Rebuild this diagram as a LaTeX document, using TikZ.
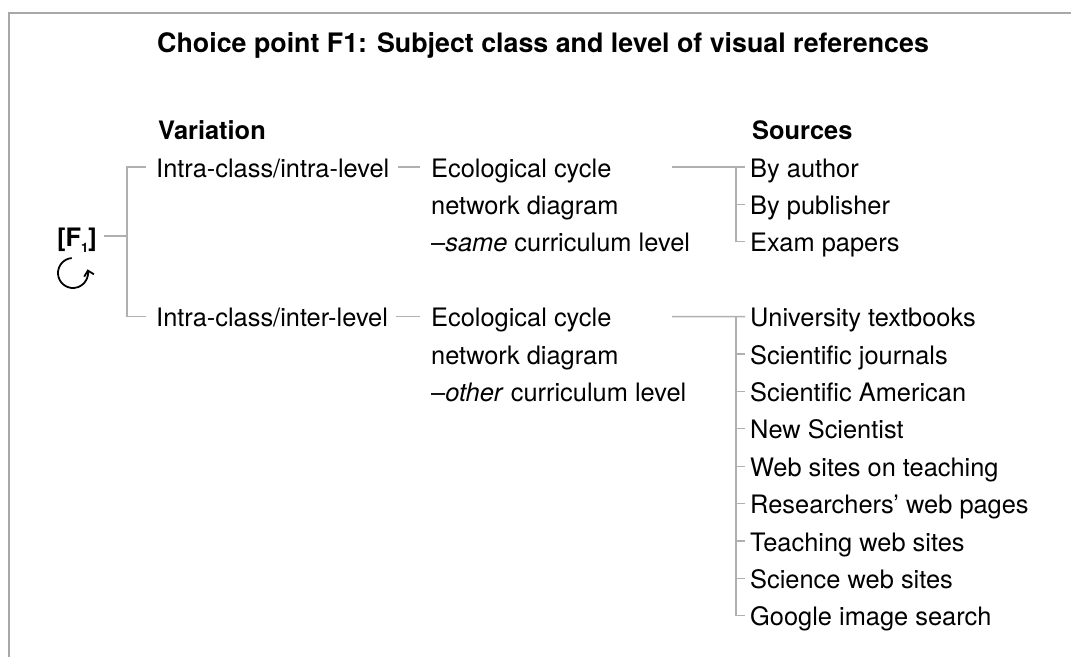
\documentclass[tikz,border=0pt]{standalone}
\usepackage{fontspec}
\setmainfont{TeX Gyre Heros}
\usetikzlibrary{arrows.meta}
\definecolor{linegray}{HTML}{B0B0B0}
\definecolor{framegray}{HTML}{A8A8A8}
\newcommand{\rowfont}{\fontsize{25.4}{30}\selectfont}

\begin{document}
\begin{tikzpicture}[x=1pt, y=-1pt,
  item/.style={anchor=west, inner sep=0pt, text height=20pt, text depth=0pt, font=\rowfont},
  head/.style={item, font=\rowfont\bfseries},
  conn/.style={draw=linegray, line width=1.3pt}]
  \useasboundingbox (0,0) rectangle (1071,657);

  % Marco
  \draw[framegray, line width=2pt] (8.5,657) -- (8.5,12.5) -- (1071,12.5);

  % Titulo y cabeceras
  \node[head, font=\fontsize{26.8}{32}\selectfont\bfseries] (title) at (157,42)
        {Choice point F1: Subject class and level of visual references};
  \node[head] (hvar) at (158,129.6) {Variation};
  \node[head] (hsrc) at (752,129.6) {Sources};

  % Punto de eleccion
  \node[head] (f1) at (57,236) {[F\raisebox{-0.45ex}{\fontsize{13}{13}\selectfont 1}]};
  \draw[line width=1.8pt, -{Straight Barb[length=5pt, width=10pt]}]
    (73,273) ++(-95:15) arc[start angle=-95, end angle=-374, radius=15];
  \coordinate (fork) at (127,236);

  % Variaciones
  \node[item] (v1) at (156,167) {Intra-class/intra-level};
  \node[item] (v2) at (156,316.6) {Intra-class/inter-level};

  % Diagramas
  \node[item] (e1a) at (431,167) {Ecological cycle};
  \node[item] (e1b) at (431,204.4) {network diagram};
  \node[item] (e1c) at (431,241.8) {–\textit{same} curriculum level};
  \node[item] (e2a) at (431,316.6) {Ecological cycle};
  \node[item] (e2b) at (431,354) {network diagram};
  \node[item] (e2c) at (431,391.4) {–\textit{other} curriculum level};

  % Fuentes
  \node[item] (s1) at (750,167) {By author};
  \node[item] (s2) at (750,204.4) {By publisher};
  \node[item] (s3) at (750,241.8) {Exam papers};
  \foreach \name [count=\i] in {University textbooks, Scientific journals,
      Scientific American, New Scientist, Web sites on teaching,
      Researchers’ web pages, Teaching web sites, Science web sites,
      Google image search}
    \node[item] (t\i) at (750,279.2+37.4*\i) {\name};

  % Conectores
  \draw[conn, shorten <=7pt] (f1.east) -- (fork);
  \draw[conn] ([xshift=-10pt]v1.west) -- (fork |- v1.west)
              -- (fork |- v2.west) -- ([xshift=-10pt]v2.west);
  \draw[conn] ([xshift=8pt]v1.east) -- ([xshift=-11pt]e1a.west);
  \draw[conn] ([xshift=8pt]v2.east) -- ([xshift=-11pt]e2a.west);

  \coordinate (src1) at (672,167);
  \coordinate (src2) at (672,316.6);
  \draw[conn] (src1) -- ([xshift=-5pt]s1.west);
  \draw[conn] ([xshift=-14pt]s1.west) -- ([xshift=-14pt]s3.west)
              -- ([xshift=-5pt]s3.west);
  \draw[conn] ([xshift=-14pt]s2.west) -- ([xshift=-5pt]s2.west);

  \draw[conn] (src2) -- ([xshift=-5pt]t1.west);
  \draw[conn] ([xshift=-14pt]t1.west) -- ([xshift=-14pt]t9.west)
              -- ([xshift=-5pt]t9.west);
  \foreach \i in {2,...,8}
    \draw[conn] ([xshift=-14pt]t\i.west) -- ([xshift=-5pt]t\i.west);
\end{tikzpicture}
\end{document}
